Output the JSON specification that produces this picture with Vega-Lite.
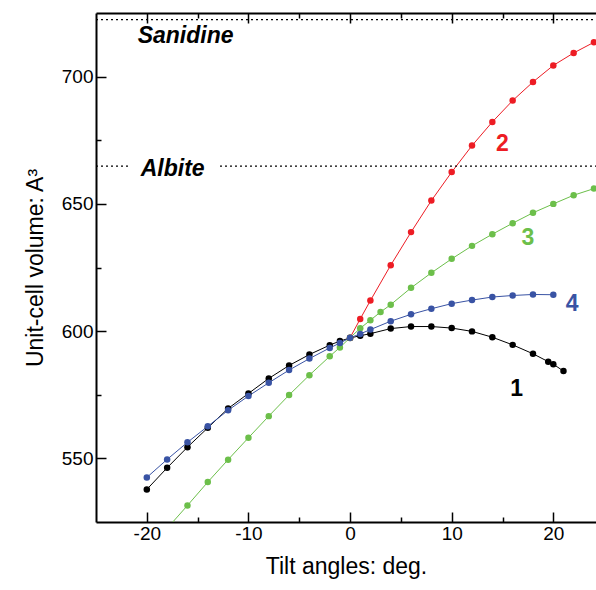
{
  "$schema": "https://vega.github.io/schema/vega-lite/v6.json",
  "width": 500,
  "height": 509,
  "autosize": "none",
  "padding": {"left": 96, "top": 13, "right": 0, "bottom": 68},
  "background": "white",
  "config": {
    "view": {"stroke": null},
    "font": "Liberation Sans",
    "axis": {
      "domainColor": "black", "domainWidth": 2, "tickColor": "black", "tickWidth": 1.5,
      "labelColor": "black", "titleColor": "black", "labelFont": "Liberation Sans", "titleFont": "Liberation Sans",
      "titleFontSize": 23, "titleFontWeight": "normal", "grid": false
    }
  },
  "datasets": {
    "pts": [
      {"s": "1", "x": -20, "y": 537.8}, {"s": "1", "x": -18, "y": 546.3}, {"s": "1", "x": -16, "y": 554.4}, {"s": "1", "x": -14, "y": 562.0},
      {"s": "1", "x": -12, "y": 569.6}, {"s": "1", "x": -10, "y": 575.5}, {"s": "1", "x": -8, "y": 581.4}, {"s": "1", "x": -6, "y": 586.5},
      {"s": "1", "x": -4, "y": 590.8}, {"s": "1", "x": -2, "y": 594.5}, {"s": "1", "x": -1, "y": 596.1}, {"s": "1", "x": 0, "y": 597.3},
      {"s": "1", "x": 1, "y": 598.2}, {"s": "1", "x": 2, "y": 599.0}, {"s": "1", "x": 4, "y": 601.0}, {"s": "1", "x": 6, "y": 601.8},
      {"s": "1", "x": 8, "y": 601.8}, {"s": "1", "x": 10, "y": 601.2}, {"s": "1", "x": 12, "y": 599.9}, {"s": "1", "x": 14, "y": 597.6},
      {"s": "1", "x": 16, "y": 594.6}, {"s": "1", "x": 18, "y": 591.1}, {"s": "1", "x": 19.5, "y": 588.0}, {"s": "1", "x": 20, "y": 587.0},
      {"s": "1", "x": 21, "y": 584.3},
      {"s": "2", "x": 0, "y": 597.4}, {"s": "2", "x": 1, "y": 604.8}, {"s": "2", "x": 2, "y": 612.0}, {"s": "2", "x": 4, "y": 625.9},
      {"s": "2", "x": 6, "y": 638.9}, {"s": "2", "x": 8, "y": 651.3}, {"s": "2", "x": 10, "y": 662.5}, {"s": "2", "x": 12, "y": 672.9},
      {"s": "2", "x": 14, "y": 682.2}, {"s": "2", "x": 16, "y": 690.6}, {"s": "2", "x": 18, "y": 697.9}, {"s": "2", "x": 20, "y": 704.4},
      {"s": "2", "x": 22, "y": 709.3}, {"s": "2", "x": 24, "y": 713.5},
      {"s": "3", "x": -18, "y": 522.5}, {"s": "3", "x": -16, "y": 531.5}, {"s": "3", "x": -14, "y": 540.7}, {"s": "3", "x": -12, "y": 549.5},
      {"s": "3", "x": -10, "y": 558.1}, {"s": "3", "x": -8, "y": 566.6}, {"s": "3", "x": -6, "y": 574.9}, {"s": "3", "x": -4, "y": 582.7},
      {"s": "3", "x": -2, "y": 590.1}, {"s": "3", "x": -1, "y": 593.6}, {"s": "3", "x": 0, "y": 597.4}, {"s": "3", "x": 1, "y": 601.1},
      {"s": "3", "x": 2, "y": 604.3}, {"s": "3", "x": 3, "y": 607.5}, {"s": "3", "x": 4, "y": 610.4}, {"s": "3", "x": 6, "y": 617.0},
      {"s": "3", "x": 8, "y": 622.9}, {"s": "3", "x": 10, "y": 628.4}, {"s": "3", "x": 12, "y": 633.5}, {"s": "3", "x": 14, "y": 638.1},
      {"s": "3", "x": 16, "y": 642.4}, {"s": "3", "x": 18, "y": 646.5}, {"s": "3", "x": 20, "y": 650.0}, {"s": "3", "x": 22, "y": 653.4},
      {"s": "3", "x": 24, "y": 656.0},
      {"s": "4", "x": -20, "y": 542.5}, {"s": "4", "x": -18, "y": 549.6}, {"s": "4", "x": -16, "y": 556.3}, {"s": "4", "x": -14, "y": 562.6},
      {"s": "4", "x": -12, "y": 568.9}, {"s": "4", "x": -10, "y": 574.5}, {"s": "4", "x": -8, "y": 579.7}, {"s": "4", "x": -6, "y": 584.7},
      {"s": "4", "x": -4, "y": 589.2}, {"s": "4", "x": -2, "y": 593.4}, {"s": "4", "x": -1, "y": 595.3}, {"s": "4", "x": 0, "y": 597.4},
      {"s": "4", "x": 1, "y": 598.9}, {"s": "4", "x": 2, "y": 600.6}, {"s": "4", "x": 4, "y": 603.9}, {"s": "4", "x": 6, "y": 606.6},
      {"s": "4", "x": 8, "y": 608.8}, {"s": "4", "x": 10, "y": 610.8}, {"s": "4", "x": 12, "y": 612.2}, {"s": "4", "x": 14, "y": 613.4},
      {"s": "4", "x": 16, "y": 614.0}, {"s": "4", "x": 18, "y": 614.4}, {"s": "4", "x": 20, "y": 614.3}
    ],
    "refs": [
      {"ref": "Sanidine", "y": 722.4, "xa": -25, "xb": 25},
      {"ref": "Albite", "y": 664.8, "xa": -25, "xb": -21.8},
      {"ref": "Albite", "y": 664.8, "xa": -12.8, "xb": 25}
    ],
    "reflabels": [
      {"label": "Sanidine", "x": -20.9, "y": 713.2},
      {"label": "Albite", "x": -20.6, "y": 660.8}
    ],
    "serieslabels": [
      {"s": "1", "x": 16.4, "y": 577.1},
      {"s": "2", "x": 15.0, "y": 673.4},
      {"s": "3", "x": 17.5, "y": 636.6},
      {"s": "4", "x": 21.85, "y": 610.5}
    ]
  },
  "layer": [
    {
      "data": {"name": "pts"},
      "mark": {"type": "line", "strokeWidth": 1, "clip": true},
      "encoding": {
        "x": {"field": "x", "type": "quantitative", "scale": {"domain": [-25, 24.2], "nice": false, "zero": false},
          "axis": {"orient": "bottom", "values": [-20, -15, -10, -5, 0, 5, 10, 15, 20],
            "labelExpr": "datum.value % 10 === 0 ? (datum.value < 0 ? '-' : '') + abs(datum.value) : ''",
            "tickSize": {"condition": {"test": "datum.value % 10 !== 0", "value": -5}, "value": -10},
            "labelFontSize": 19, "titleFontSize": 23,
            "labelPadding": 12, "title": "Tilt angles: deg.", "titlePadding": 12}},
        "y": {"field": "y", "type": "quantitative", "scale": {"domain": [525, 725], "nice": false, "zero": false},
          "axis": {"orient": "left", "values": [550, 575, 600, 625, 650, 675, 700],
            "labelExpr": "datum.value % 50 === 0 ? datum.label : ''",
            "tickSize": {"condition": {"test": "datum.value % 50 !== 0", "value": -5}, "value": -10},
            "labelFontSize": 19, "titleFontSize": 23,
            "labelPadding": 13, "title": "Unit-cell volume: A³", "titlePadding": 14}},
        "color": {"field": "s", "type": "nominal", "legend": null,
          "scale": {"domain": ["1", "2", "3", "4"], "range": ["#000000", "#ed1c24", "#6cbf4a", "#3953a4"]}}
      }
    },
    {
      "data": {"name": "pts"},
      "mark": {"type": "point", "filled": true, "opacity": 1, "size": 42, "clip": true},
      "encoding": {
        "x": {"field": "x", "type": "quantitative",
          "axis": {"orient": "top", "values": [-20, -15, -10, -5, 0, 5, 10, 15, 20], "labels": false, "title": null,
            "tickSize": {"condition": {"test": "datum.value % 10 !== 0", "value": -5}, "value": -10}}},
        "y": {"field": "y", "type": "quantitative", "axis": null},
        "color": {"field": "s", "type": "nominal", "legend": null}
      }
    },
    {
      "data": {"name": "refs"},
      "mark": {"type": "rule", "strokeDash": [2, 3], "strokeWidth": 1.3, "color": "black", "clip": true},
      "encoding": {
        "x": {"field": "xa", "type": "quantitative", "axis": null},
        "x2": {"field": "xb"},
        "y": {"field": "y", "type": "quantitative", "axis": null}
      }
    },
    {
      "data": {"name": "reflabels"},
      "mark": {"type": "text", "align": "left", "baseline": "alphabetic", "fontSize": 23, "fontWeight": "bold", "fontStyle": "italic", "color": "black"},
      "encoding": {
        "x": {"field": "x", "type": "quantitative", "axis": null},
        "y": {"field": "y", "type": "quantitative", "axis": null},
        "text": {"field": "label"}
      }
    },
    {
      "data": {"name": "serieslabels"},
      "mark": {"type": "text", "align": "center", "baseline": "middle", "fontSize": 23, "fontWeight": "bold"},
      "encoding": {
        "x": {"field": "x", "type": "quantitative", "axis": null},
        "y": {"field": "y", "type": "quantitative", "axis": null},
        "text": {"field": "s"},
        "color": {"field": "s", "type": "nominal", "legend": null}
      }
    }
  ],
  "resolve": {"axis": {"x": "independent", "y": "independent"}}
}
